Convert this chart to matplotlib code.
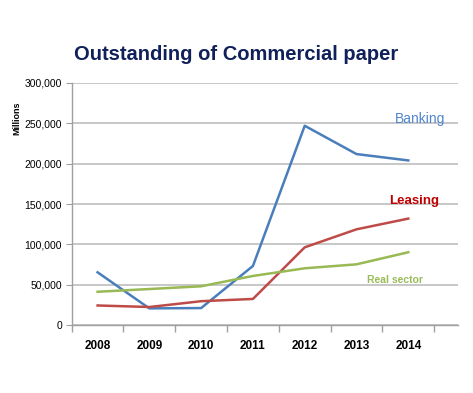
import numpy as np
import matplotlib
matplotlib.use("Agg")
import matplotlib.pyplot as plt
from matplotlib.ticker import FuncFormatter

years = ["2008", "2009", "2010", "2011", "2012", "2013", "2014"]
banking = [65300, 20600, 21000, 73200, 247000, 211900, 204000]
leasing = [24200, 22300, 29500, 32300, 96300, 118600, 131900]
real_sector = [41200, 44600, 48000, 60800, 70300, 75200, 90200]

plt.rcParams['font.family'] = ['Liberation Sans', 'DejaVu Sans']

W, H = 473, 393
fig = plt.figure(figsize=(W / 100, H / 100), dpi=100)
ax = fig.add_axes([71.7 / W, 1 - 325 / H, (458 - 71.7) / W, (325 - 83) / H])

x = np.arange(len(years))
ax.plot(x, banking, color="#4A7EBB", lw=1.8)
ax.plot(x, leasing, color="#BE4B48", lw=1.8)
ax.plot(x, real_sector, color="#98B954", lw=1.8)

ax.set_xlim(-0.5, 6.96)
ax.set_ylim(0, 300000)
ax.set_yticks(np.arange(0, 300001, 50000))
ax.yaxis.set_major_formatter(FuncFormatter(lambda v, p: f"{int(v):,}"))
ax.set_xticks(x)
ax.set_xticklabels(years, fontsize=8.5, fontweight="bold")
ax.set_xticks(np.arange(-0.5, 6.6, 1), minor=True)
ax.tick_params(axis="x", which="major", length=0, pad=11)
ax.tick_params(axis="x", which="minor", length=5, color="#A0A0A0", width=1)
ax.tick_params(axis="y", length=4, color="#A0A0A0", labelsize=7.5, pad=3)
ax.grid(axis="y", color="#B8B8B8", lw=1.1)
ax.set_axisbelow(True)
for s in ["top", "right"]:
    ax.spines[s].set_visible(False)
for s in ["left", "bottom"]:
    ax.spines[s].set_color("#A0A0A0")
    ax.spines[s].set_linewidth(1)

fig.text(0.5, 1 - 54 / H, "Outstanding of Commercial paper", ha="center", va="center",
         fontsize=14.5, fontweight="bold", color="#10205A")
fig.text(17 / W, 1 - 118 / H, "Millions", rotation=90, ha="center", va="center",
         fontsize=6.5, fontweight="bold", color="black")

ax.text(5.75, 251000, "Banking", color="#4F86CC", fontsize=10, ha="left", va="baseline")
ax.text(5.63, 149500, "Leasing", color="#C00000", fontsize=9.5, fontweight="bold", ha="left", va="baseline")
ax.text(5.21, 52000, "Real sector", color="#9BBB59", fontsize=7.5, fontweight="bold", ha="left", va="baseline")

fig.savefig("out.png", dpi=100)
